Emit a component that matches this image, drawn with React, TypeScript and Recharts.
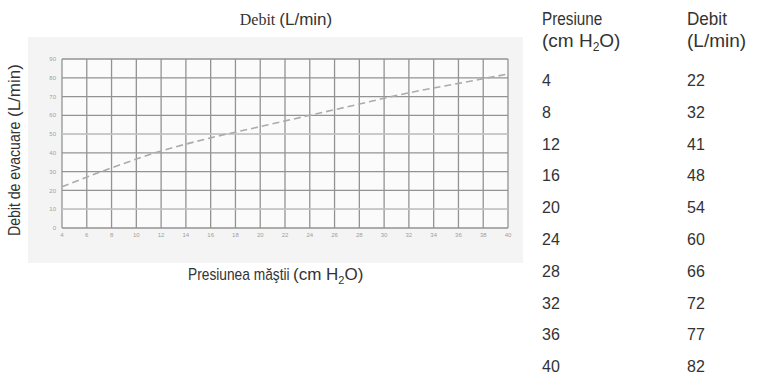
import React from 'react';
import { LineChart, Line, XAxis, YAxis, CartesianGrid, ReferenceLine } from 'recharts';

const pressures = [4, 8, 12, 16, 20, 24, 28, 32, 36, 40];
const debits = [22, 32, 41, 48, 54, 60, 66, 72, 77, 82];
const xTicks = [4, 6, 8, 10, 12, 14, 16, 18, 20, 22, 24, 26, 28, 30, 32, 34, 36, 38, 40];
const yTicks = [0, 10, 20, 30, 40, 50, 60, 70, 80, 90];
const lightRows = [10, 50];

const chartTitleA = 'Debit ';
const chartTitleB = '(L/min)';
const xLabelA = 'Presiunea măştii';
const yLabelA = 'Debit de evacuare';
const yLabelB = '(L/min)';
const colHead1 = 'Presiune';
const colHead2 = 'Debit';
const colUnit2 = '(L/min)';

const data = pressures.map((p, i) => ({ p, d: debits[i] }));

const SANS = 'Liberation Sans, Arial, sans-serif';
const SERIF = 'Liberation Serif, Times New Roman, serif';
const TXT = '#333';

export default function App() {
  return (
    <div style={{ position: 'absolute', left: 0, top: 0, width: 757, height: 374, background: '#fff', overflow: 'hidden' }}>
      <div style={{ position: 'absolute', left: 28, top: 37, width: 495, height: 226, background: '#f4f4f4' }} />
      <LineChart
        width={757}
        height={374}
        data={data}
        margin={{ top: 59, right: 249, left: 0, bottom: 0 }}
        style={{ position: 'absolute', left: 0, top: 0 }}
      >
        <CartesianGrid stroke="#939393" strokeWidth={1.3} fill="#fbfbfb" />
        <XAxis
          type="number"
          dataKey="p"
          domain={[4, 40]}
          ticks={xTicks}
          interval={0}
          height={146}
          tickSize={0}
          tickMargin={5}
          axisLine={false}
          tick={{ fontSize: 6, fill: '#a0a0a0', fontFamily: SANS }}
        />
        <YAxis
          type="number"
          domain={[0, 90]}
          ticks={yTicks}
          interval={0}
          width={62}
          tickSize={0}
          tickMargin={6}
          axisLine={false}
          tick={{ fontSize: 6, fill: '#a0a0a0', fontFamily: SANS }}
        />
        {lightRows.map((v) => (
          <ReferenceLine key={v} y={v} stroke="#d2d2d2" strokeWidth={1.3} />
        ))}
        <Line
          type="monotone"
          dataKey="d"
          stroke="#ababab"
          strokeWidth={1.6}
          strokeDasharray="7 4"
          dot={false}
          isAnimationActive={false}
        />
      </LineChart>
      <svg width={757} height={374} style={{ position: 'absolute', left: 0, top: 0, pointerEvents: 'none' }}>
        <text x={286} y={25} textAnchor="middle" fill={TXT}>
          <tspan fontFamily={SERIF} fontSize={16}>{chartTitleA}</tspan>
          <tspan fontFamily={SANS} fontSize={17}>{chartTitleB}</tspan>
        </text>

        <text transform="translate(188,280) scale(0.86,1)" x={0} y={0} fill={TXT} fontFamily={SANS} fontSize={16}>{xLabelA}</text>
        <text x={293} y={280} fill={TXT} fontFamily={SANS} fontSize={17}>
          <tspan>(cm H</tspan>
          <tspan fontSize={11} dy={4}>2</tspan>
          <tspan dy={-4}>O)</tspan>
        </text>

        <text transform="translate(20,236) rotate(-90) scale(0.88,1)" x={0} y={0} fill={TXT} fontFamily={SANS} fontSize={16}>{yLabelA}</text>
        <text transform="translate(20,236) rotate(-90)" x={119} y={0} fill={TXT} fontFamily={SANS} fontSize={17}>{yLabelB}</text>

        <text transform="translate(542,25) scale(0.85,1)" x={0} y={0} fill={TXT} fontFamily={SANS} fontSize={18}>{colHead1}</text>
        <text x={542} y={47} fill={TXT} fontFamily={SANS} fontSize={19}>
          <tspan>(cm H</tspan>
          <tspan fontSize={12} dy={4}>2</tspan>
          <tspan dy={-4}>O)</tspan>
        </text>
        <text transform="translate(687,25) scale(0.95,1)" x={0} y={0} fill={TXT} fontFamily={SANS} fontSize={18}>{colHead2}</text>
        <text x={687} y={47} fill={TXT} fontFamily={SANS} fontSize={19}>{colUnit2}</text>
        {pressures.map((p, i) => (
          <text key={'p' + p} x={542} y={86 + i * 31.8} fill={TXT} fontFamily={SANS} fontSize={16}>{p}</text>
        ))}
        {debits.map((d, i) => (
          <text key={'d' + i} x={687} y={86 + i * 31.8} fill={TXT} fontFamily={SANS} fontSize={16}>{d}</text>
        ))}
      </svg>
    </div>
  );
}
